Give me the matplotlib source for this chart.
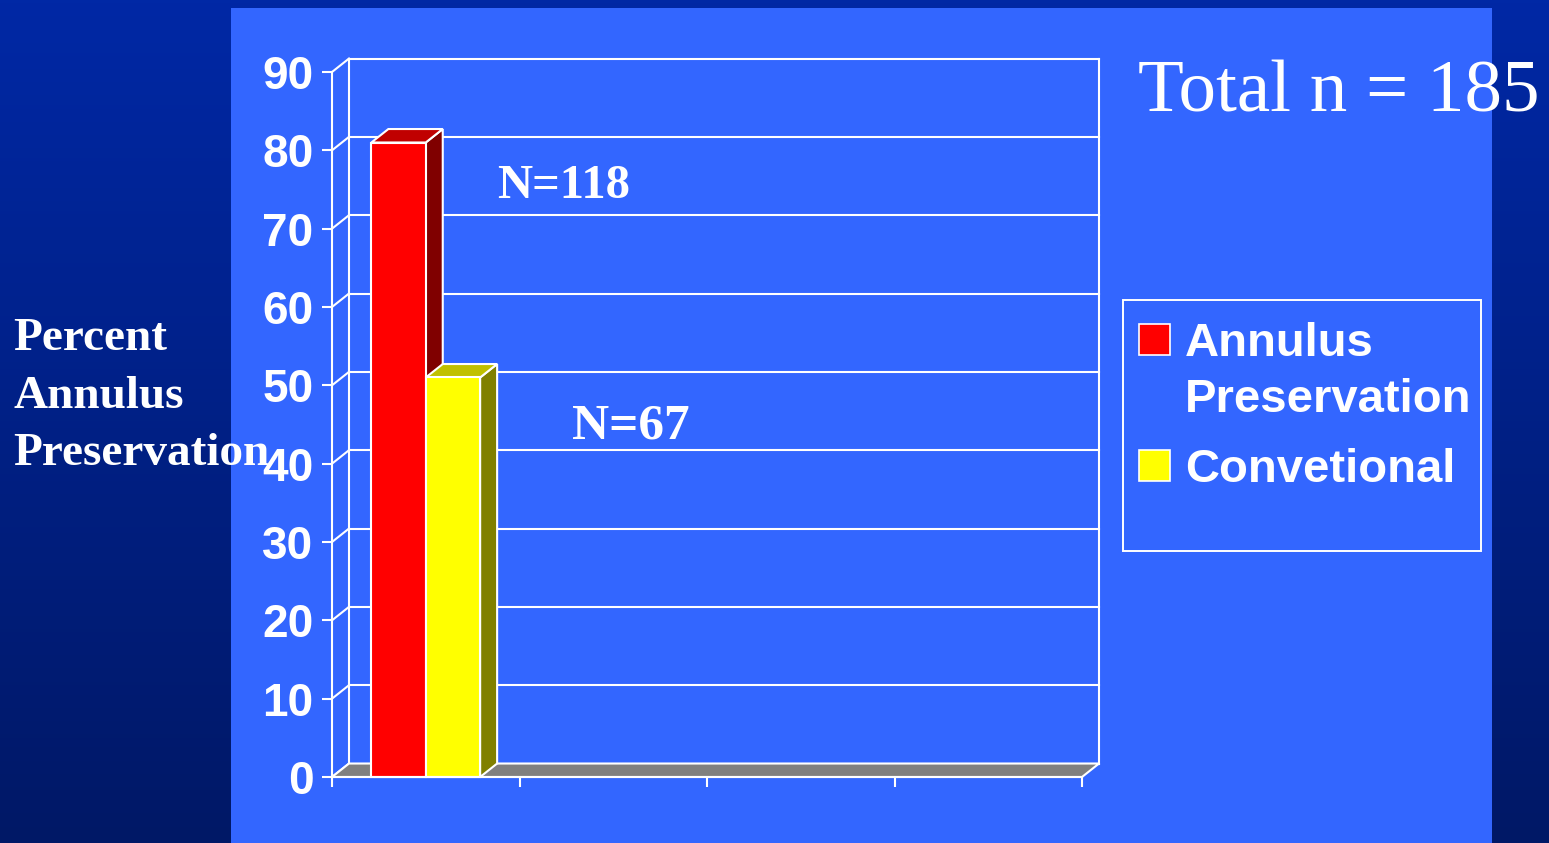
import numpy as np
import matplotlib
matplotlib.use("Agg")
import matplotlib.pyplot as plt
from matplotlib.patches import Rectangle, Polygon

# ---- data ----
categories = ["", "", "", ""]
series_names = ["Annulus\nPreservation", "Convetional"]
series_values = [81, 51]
series_colors = ["#FF0000", "#FFFF00"]
top_colors = ["#C00000", "#C0C000"]
side_colors = ["#800000", "#808000"]
count_labels = ["N=118", "N=67"]
y_ticks = [0, 10, 20, 30, 40, 50, 60, 70, 80, 90]
y_title_lines = ["Percent", "Annulus", "Preservation"]
total_text = "Total n = 185"

W, H = 1549, 843
fig = plt.figure(figsize=(W / 100, H / 100), dpi=100)


def fx(px):
    return px / W


def fy(py):
    return 1 - py / H


# background gradient and light panel
bg = fig.add_axes([0, 0, 1, 1], zorder=0)
bg.set_axis_off()
bg.set_xlim(0, 1)
bg.set_ylim(0, 1)
top = np.array([0, 40, 165]) / 255
bot = np.array([0, 24, 102]) / 255
t = np.linspace(0, 1, 256)[:, None]
grad = top[None, :] * (1 - t) + bot[None, :] * t
bg.imshow(grad[:, None, :], aspect="auto", extent=[0, 1, 0, 1])
bg.add_patch(Rectangle((fx(231), 0), fx(1492) - fx(231), fy(8),
                       transform=bg.transAxes, facecolor="#3366FF",
                       edgecolor="none", zorder=2))

# y-axis title (behind the tick labels)
for k, line in enumerate(y_title_lines):
    bg.text(fx(13), fy(350 + 57.5 * k), line, color="white", fontsize=34,
            fontweight="bold", fontfamily="Liberation Serif",
            ha="left", va="baseline", transform=bg.transAxes, zorder=3)

# ---- chart axes (front plane) ----
ax = fig.add_axes([fx(332), fy(777), fx(1082) - fx(332), fy(72) - fy(777)],
                  zorder=1)
ax.set_facecolor("none")
ax.set_xlim(-0.5, 3.5)
ax.set_ylim(0, 90)
for s in ["top", "right"]:
    ax.spines[s].set_visible(False)
for s in ["left", "bottom"]:
    ax.spines[s].set_color("white")
    ax.spines[s].set_linewidth(1.5)
    ax.spines[s].set_zorder(5)
ax.set_yticks(y_ticks)
ax.set_yticklabels([str(v) for v in y_ticks])
ax.set_xticks(np.arange(len(categories) + 1) - 0.5)
ax.set_xticklabels([""] * (len(categories) + 1))
ax.tick_params(axis="both", colors="white", width=1.5, length=7.5,
               direction="out")
ax.tick_params(axis="y", pad=6)
for lab in ax.get_yticklabels():
    lab.set_fontfamily("Liberation Sans")
    lab.set_fontweight("bold")
    lab.set_fontsize(33)
    lab.set_color("white")

# depth of the 3D box in data units
dx = 17 / 187.5
dy = 1.72
x0, x1 = -0.5, 3.5
lw = 1.5

# back wall gridlines and side-wall connectors
for v in y_ticks:
    ax.plot([x0 + dx, x1 + dx], [v + dy, v + dy], color="white", lw=lw,
            clip_on=False, zorder=1)
    ax.plot([x0, x0 + dx], [v, v + dy], color="white", lw=lw,
            clip_on=False, zorder=1)
ax.plot([x0 + dx, x0 + dx], [dy, 90 + dy], color="white", lw=lw,
        clip_on=False, zorder=1)
ax.plot([x1 + dx, x1 + dx], [dy, 90 + dy], color="white", lw=lw,
        clip_on=False, zorder=1)

# floor
ax.add_patch(Polygon([[x0, 0], [x0 + dx, dy], [x1 + dx, dy], [x1, 0]],
                     closed=True, facecolor="#808080", edgecolor="white",
                     lw=lw, clip_on=False, zorder=2))

# bars
bar_w = 0.29
offsets = [-bar_w / 2, bar_w / 2]
for i, (val, c, tc, sc) in enumerate(zip(series_values, series_colors,
                                           top_colors, side_colors)):
    xc = 0 + offsets[i]
    xl, xr = xc - bar_w / 2, xc + bar_w / 2
    z = 3 + i
    ax.add_patch(Polygon([[xr, 0], [xr + dx, dy], [xr + dx, val + dy], [xr, val]],
                         closed=True, facecolor=sc, edgecolor="white",
                         lw=lw, clip_on=False, zorder=z))
    ax.add_patch(Polygon([[xl, val], [xl + dx, val + dy], [xr + dx, val + dy], [xr, val]],
                         closed=True, facecolor=tc, edgecolor="white",
                         lw=lw, clip_on=False, zorder=z))
    ax.bar([xc], [val], width=bar_w, color=c, edgecolor="white",
           linewidth=lw, zorder=z, clip_on=False)

# count annotations
count_pos = [(0.38, 73.9), (0.78, 43.15)]
count_sizes = [35, 37]
for txt, (px, py), fs in zip(count_labels, count_pos, count_sizes):
    ax.text(px, py, txt, color="white", fontsize=fs, fontweight="bold",
            fontfamily="Liberation Serif", ha="left", va="baseline", zorder=6)

# total label
fig.text(fx(1138), fy(111), total_text, color="white", fontsize=54,
         fontfamily="Liberation Serif", ha="left", va="baseline", zorder=5)

# legend
fig.patches.append(Rectangle((fx(1123), fy(551)), fx(1481) - fx(1123),
                             fy(300) - fy(551), transform=fig.transFigure,
                             facecolor="none", edgecolor="white", lw=1.4,
                             zorder=5))
swatch_tops = [324, 450]
text_baselines = [356, 482]
for name, c, st, tb in zip(series_names, series_colors, swatch_tops,
                           text_baselines):
    fig.patches.append(Rectangle((fx(1139), fy(st + 31)), fx(31), 31 / H,
                                 transform=fig.transFigure, facecolor=c,
                                 edgecolor="white", lw=1.2, zorder=5))
    lines = name.split("\n")
    for j, ln in enumerate(lines):
        fig.text(fx(1185), fy(tb + 56 * j), ln, color="white", fontsize=34,
                 fontweight="bold", fontfamily="Liberation Sans",
                 ha="left", va="baseline", zorder=5)

fig.savefig("out.png", dpi=100)
